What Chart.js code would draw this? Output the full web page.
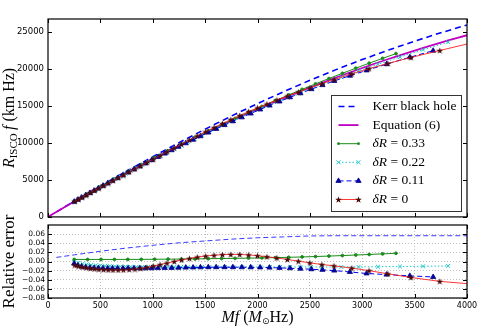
<!DOCTYPE html>
<html>
<head>
<meta charset="utf-8">
<script src="https://cdn.jsdelivr.net/npm/chart.js@4.4.1/dist/chart.umd.min.js"></script>
<style>
  html, body { margin: 0; padding: 0; background: #fff; }
  #wrap { position: relative; width: 491px; height: 332px; overflow: hidden; }
  #wrap canvas { position: absolute; left: 0; }
  #topCanvas { top: 0; }
  #errCanvas { top: 180px; }
</style>
</head>
<body>
<div id="wrap">
  <canvas id="topCanvas" width="491" height="226"></canvas>
  <canvas id="errCanvas" width="491" height="152"></canvas>
</div>
<script>
// values
const xTicks = [0, 500, 1000, 1500, 2000, 2500, 3000, 3500, 4000];
const topYTicks = [0, 5000, 10000, 15000, 20000, 25000];
const errYTicks = [-0.08, -0.06, -0.04, -0.02, 0, 0.02, 0.04, 0.06];

const legendLabels = ['Kerr black hole', 'Equation (6)', 'δR = 0.33', 'δR = 0.22', 'δR = 0.11', 'δR = 0'];

const eq6X = [0, 250, 500, 750, 1000, 1250, 1500, 1750, 2000, 2250, 2500, 2750, 3000, 3250, 3500, 3750, 4000];
const eq6Y = [0, 2073, 4075, 6005, 7864, 9652, 11368, 13013, 14586, 16088, 17519, 18878, 20166, 21383, 22528, 23602, 24604];

const kerrX = [80, 250, 500, 750, 1000, 1250, 1500, 1750, 2000, 2250, 2500, 2750, 3000, 3250, 3500, 3750, 4000];
const kerrY = [677, 2103, 4167, 6182, 8143, 10048, 11880, 13651, 15344, 16957, 18500, 19945, 21305, 22591, 23801, 24935, 25994];
const kerrErr = [0.009, 0.0145, 0.0225, 0.0295, 0.0355, 0.041, 0.045, 0.049, 0.052, 0.054, 0.056, 0.0565, 0.0565, 0.0565, 0.0565, 0.0565, 0.0565];

const dR33X = [250, 378, 506, 634, 762, 890, 1018, 1146, 1274, 1402, 1530, 1658, 1786, 1914, 2042, 2170, 2298, 2426, 2554, 2682, 2810, 2938, 3066, 3194, 3322];
const dR33Y = [2082, 3121, 4140, 5141, 6124, 7088, 8034, 8962, 9872, 10765, 11640, 12496, 13335, 14157, 14961, 15748, 16519, 17274, 18013, 18736, 19443, 20135, 20810, 21469, 22111];
const dR33Err = [0.0045, 0.0045, 0.0045, 0.0045, 0.0046, 0.0047, 0.0049, 0.0051, 0.0054, 0.0057, 0.0061, 0.0065, 0.0069, 0.0074, 0.0079, 0.0085, 0.0092, 0.0100, 0.0109, 0.0119, 0.0130, 0.0142, 0.0154, 0.0167, 0.0180];

const dR22X = [250, 290, 330, 370, 410, 455, 500, 545, 590, 640, 690, 740, 790, 845, 900, 955, 1015, 1075, 1140, 1205, 1270, 1335, 1400, 1470, 1540, 1615, 1690, 1770, 1855, 1940, 2030, 2120, 2215, 2310, 2410, 2510, 2615, 2800, 2965, 3150, 3360, 3580, 3820];
const dR22Y = [2071, 2391, 2708, 3023, 3337, 3688, 4038, 4385, 4730, 5110, 5487, 5863, 6235, 6641, 7044, 7444, 7877, 8307, 8767, 9223, 9674, 10120, 10562, 11032, 11496, 11988, 12473, 12983, 13518, 14044, 14593, 15132, 15691, 16241, 16808, 17364, 17935, 18912, 19754, 20664, 21654, 22639, 23658];
const dR22Err = [-0.001, -0.003, -0.005, -0.0065, -0.0075, -0.0085, -0.009, -0.0095, -0.010, -0.0105, -0.011, -0.0112, -0.0115, -0.0117, -0.0119, -0.012, -0.0121, -0.012, -0.012, -0.012, -0.012, -0.012, -0.012, -0.012, -0.012, -0.012, -0.012, -0.012, -0.012, -0.012, -0.012, -0.012, -0.012, -0.012, -0.012, -0.012, -0.012, -0.012, -0.0118, -0.0115, -0.011, -0.0105, -0.0097];

const dR11X = [250, 285, 320, 360, 400, 440, 480, 525, 570, 615, 665, 715, 765, 820, 875, 930, 990, 1050, 1115, 1180, 1245, 1315, 1385, 1455, 1530, 1605, 1685, 1765, 1850, 1935, 2025, 2115, 2210, 2310, 2410, 2515, 2620, 2733, 2882, 3041, 3232, 3454, 3677];
const dR11Y = [2064, 2338, 2612, 2926, 3238, 3550, 3860, 4208, 4553, 4897, 5276, 5653, 6027, 6435, 6839, 7240, 7676, 8108, 8572, 9030, 9485, 9969, 10449, 10922, 11423, 11916, 12434, 12945, 13479, 14002, 14548, 15081, 15631, 16195, 16743, 17303, 17847, 18414, 19119, 19837, 20686, 21619, 22506];
const dR11Err = [-0.0045, -0.0085, -0.011, -0.0125, -0.0135, -0.014, -0.0145, -0.0148, -0.015, -0.015, -0.015, -0.015, -0.015, -0.015, -0.015, -0.015, -0.0148, -0.0145, -0.0142, -0.014, -0.0137, -0.0134, -0.0131, -0.0128, -0.0126, -0.0125, -0.0125, -0.0125, -0.0126, -0.0128, -0.013, -0.0134, -0.014, -0.0148, -0.0158, -0.017, -0.0183, -0.0199, -0.0229, -0.0262, -0.0287, -0.0315, -0.0339];

// last point (4000) is the end of the line, without a marker
const dR0X = [255, 290, 325, 365, 405, 445, 485, 530, 575, 620, 670, 720, 775, 830, 885, 945, 1005, 1070, 1135, 1205, 1275, 1350, 1425, 1505, 1585, 1665, 1745, 1830, 1915, 2000, 2090, 2185, 2285, 2390, 2500, 2615, 2730, 2900, 3065, 3245, 3465, 3740, 4000];
const dR0Y = [2097, 2374, 2649, 2962, 3273, 3582, 3889, 4234, 4576, 4917, 5295, 5671, 6085, 6499, 6913, 7366, 7821, 8315, 8807, 9335, 9861, 10417, 10966, 11538, 12100, 12648, 13183, 13734, 14263, 14771, 15294, 15827, 16366, 16912, 17466, 18033, 18594, 19374, 20079, 20782, 21589, 22535, 23411];
const dR0Err = [-0.008, -0.010, -0.012, -0.0135, -0.015, -0.016, -0.017, -0.0178, -0.0183, -0.0186, -0.0186, -0.0183, -0.0176, -0.0165, -0.015, -0.0128, -0.010, -0.0068, -0.0035, 0.0, 0.0035, 0.0068, 0.0097, 0.012, 0.0138, 0.015, 0.0156, 0.0155, 0.0145, 0.0127, 0.0105, 0.0078, 0.0045, 0.0008, -0.003, -0.0066, -0.0095, -0.0145, -0.020, -0.027, -0.035, -0.0435, -0.0485];

const SERIF = '"Liberation Serif", "DejaVu Serif", serif';
const SANS = '"DejaVu Sans", sans-serif';

function pts(xs, ys) {
    return xs.map((x, i) => ({ x: x, y: ys[i] }));
}

// filled 5-point star like matplotlib's '*'
function starImage(size, fill) {
    const c = document.createElement('canvas');
    c.width = c.height = size;
    const g = c.getContext('2d');
    const cx = size / 2, cy = size / 2 + 0.4, ro = size / 2, ri = ro * 0.42;
    g.beginPath();
    for (let k = 0; k < 10; k++) {
        const r = k % 2 ? ri : ro;
        const a = -Math.PI / 2 + k * Math.PI / 5;
        g.lineTo(cx + r * Math.cos(a), cy + r * Math.sin(a));
    }
    g.closePath();
    g.fillStyle = fill;
    g.fill();
    return c;
}
const star = starImage(7, '#4a0c0c');

const styles = {
    kerr: { borderColor: '#0000ff', borderWidth: 1.6, borderDash: [6, 4], pointRadius: 0, order: 6 },
    eq6: { borderColor: '#c000c0', borderWidth: 1.8, pointRadius: 0, order: 5, cubicInterpolationMode: 'monotone' },
    g: { borderColor: '#1a8a1a', borderWidth: 1, pointStyle: 'circle', pointRadius: 1.4, pointBackgroundColor: '#1a8a1a', pointBorderColor: '#1a8a1a', order: 4 },
    c: { borderColor: '#20c8c8', borderWidth: 1, borderDash: [1.5, 2], pointStyle: 'crossRot', pointRadius: 2.8, pointBorderColor: '#20c8c8', pointBorderWidth: 1, order: 3 },
    b: { borderColor: '#0000ee', borderWidth: 1, borderDash: [5, 3], pointStyle: 'triangle', pointRadius: 3, pointBackgroundColor: '#0000b0', pointBorderColor: '#000080', pointBorderWidth: 0.8, order: 2 },
    r: { borderColor: 'rgba(255, 20, 20, 0.85)', borderWidth: 1, pointStyle: star, pointRadius: dR0X.map((x, i) => i === dR0X.length - 1 ? 0 : 3), order: 1 }
};

function ds(label, data, style, extra) {
    return Object.assign({ label: label, data: data, fill: false, tension: 0, pointHoverRadius: 0 }, style, extra || {});
}

function drawMarker(ctx, d, x, y) {
    const r = Array.isArray(d.pointRadius) ? d.pointRadius[0] : d.pointRadius;
    if (!r) return;
    const st = d.pointStyle;
    ctx.save();
    ctx.setLineDash([]);
    if (st instanceof HTMLCanvasElement) {
        ctx.drawImage(st, x - st.width / 2, y - st.height / 2);
    } else if (st === 'circle') {
        ctx.fillStyle = d.pointBackgroundColor;
        ctx.beginPath(); ctx.arc(x, y, r, 0, Math.PI * 2); ctx.fill();
    } else if (st === 'crossRot') {
        const o = r * Math.SQRT1_2;
        ctx.strokeStyle = d.pointBorderColor; ctx.lineWidth = d.pointBorderWidth || 1;
        ctx.beginPath();
        ctx.moveTo(x - o, y - o); ctx.lineTo(x + o, y + o);
        ctx.moveTo(x - o, y + o); ctx.lineTo(x + o, y - o);
        ctx.stroke();
    } else if (st === 'triangle') {
        ctx.fillStyle = d.pointBackgroundColor; ctx.strokeStyle = d.pointBorderColor;
        ctx.lineWidth = d.pointBorderWidth || 1;
        ctx.beginPath();
        ctx.moveTo(x, y - r);
        ctx.lineTo(x - r * 0.866, y + r / 2);
        ctx.lineTo(x + r * 0.866, y + r / 2);
        ctx.closePath(); ctx.fill(); ctx.stroke();
    }
    ctx.restore();
}

// frame round the plot area and inward tick marks (matplotlib look)
const framePlugin = {
    id: 'frame',
    afterDatasetsDraw(chart, args, opts) {
        const { ctx, chartArea: a, scales } = chart;
        ctx.save();
        ctx.strokeStyle = '#000';
        ctx.lineWidth = 1;
        ctx.beginPath();
        xTicks.forEach(v => {
            const px = Math.round(scales.x.getPixelForValue(v)) + 0.5;
            ctx.moveTo(px, a.bottom); ctx.lineTo(px, a.bottom - 4);
            ctx.moveTo(px, a.top); ctx.lineTo(px, a.top + 4);
        });
        (opts.yTicks || []).forEach(v => {
            const py = Math.round(scales.y.getPixelForValue(v)) + 0.5;
            ctx.moveTo(a.left, py); ctx.lineTo(a.left + 4, py);
            ctx.moveTo(a.right, py); ctx.lineTo(a.right - 4, py);
        });
        ctx.stroke();
        ctx.lineWidth = 1.2;
        ctx.strokeRect(a.left, a.top, a.right - a.left, a.bottom - a.top);
        ctx.restore();
    }
};

// axis titles with sub/superscript parts
function drawParts(ctx, cx, cy, rot, parts) {
    ctx.save();
    ctx.translate(cx, cy);
    ctx.rotate(rot);
    ctx.fillStyle = '#000';
    ctx.textBaseline = 'middle';
    ctx.textAlign = 'left';
    let total = 0;
    parts.forEach(p => { ctx.font = p.font; total += ctx.measureText(p.t).width; });
    let x = -total / 2;
    parts.forEach(p => {
        ctx.font = p.font;
        ctx.fillText(p.t, x, p.dy || 0);
        x += ctx.measureText(p.t).width;
    });
    ctx.restore();
}

const titlePlugin = {
    id: 'axisTitles',
    afterDraw(chart, args, opts) {
        const { ctx, chartArea: a } = chart;
        if (opts.y) drawParts(ctx, 10, (a.top + a.bottom) / 2, -Math.PI / 2, opts.y);
        if (opts.x) drawParts(ctx, (a.left + a.right) / 2, a.bottom + opts.xOffset, 0, opts.x);
    }
};

const legendPlugin = {
    id: 'boxLegend',
    afterDraw(chart) {
        const { ctx, chartArea: a } = chart;
        const w = 130, h = 116;
        const x0 = Math.round(a.right - 6 - w) + 0.5, y0 = Math.round(a.bottom - 6 - h) + 0.5;
        ctx.save();
        ctx.fillStyle = '#fff';
        ctx.fillRect(x0, y0, w, h);
        ctx.strokeStyle = '#333';
        ctx.lineWidth = 1;
        ctx.strokeRect(x0, y0, w, h);
        chart.data.datasets.forEach((d, i) => {
            const y = y0 + 11 + i * 18.6;
            const xa = x0 + 7, xb = x0 + 27;
            ctx.strokeStyle = d.borderColor;
            ctx.lineWidth = d.borderWidth;
            ctx.setLineDash(d.borderDash || []);
            ctx.beginPath(); ctx.moveTo(xa, y); ctx.lineTo(xb, y); ctx.stroke();
            ctx.setLineDash([]);
            drawMarker(ctx, d, xa, y);
            drawMarker(ctx, d, xb, y);
            const label = legendLabels[i];
            let tx = x0 + 41;
            ctx.fillStyle = '#000';
            ctx.textBaseline = 'middle';
            if (label.indexOf('δR') === 0) {
                ctx.font = 'italic 13.5px ' + SERIF;
                ctx.fillText('δR', tx, y);
                tx += ctx.measureText('δR').width;
                ctx.font = '13.5px ' + SERIF;
                ctx.fillText(label.slice(2), tx, y);
            } else {
                ctx.font = '13.5px ' + SERIF;
                ctx.fillText(label, tx, y);
            }
        });
        ctx.restore();
    }
};

Chart.defaults.color = '#000';

new Chart(document.getElementById('topCanvas'), {
    type: 'line',
    data: {
        datasets: [
            ds(legendLabels[0], pts(kerrX, kerrY), styles.kerr),
            ds(legendLabels[1], pts(eq6X, eq6Y), styles.eq6),
            ds(legendLabels[2], pts(dR33X, dR33Y), styles.g),
            ds(legendLabels[3], pts(dR22X, dR22Y), styles.c),
            ds(legendLabels[4], pts(dR11X, dR11Y), styles.b),
            ds(legendLabels[5], pts(dR0X, dR0Y), styles.r)
        ]
    },
    options: {
        responsive: false,
        animation: false,
        events: [],
        layout: { padding: { top: 19, right: 24, bottom: 1, left: 0 } },
        plugins: {
            legend: { display: false },
            tooltip: { enabled: false },
            frame: { yTicks: topYTicks },
            axisTitles: {
                y: [
                    { t: 'R', font: 'italic 16px ' + SERIF },
                    { t: 'ISCO', font: '11px ' + SERIF, dy: 4 },
                    { t: '\u2009f', font: 'italic 16px ' + SERIF },
                    { t: ' (km Hz)', font: '16px ' + SERIF }
                ]
            }
        },
        scales: {
            x: { type: 'linear', min: 0, max: 4000, display: false },
            y: {
                type: 'linear', min: 0, max: 26800,
                grid: { display: false, drawTicks: false },
                border: { display: false },
                afterBuildTicks: s => { s.ticks = topYTicks.map(v => ({ value: v })); },
                afterFit: s => { s.width = 48; },
                ticks: { font: { family: SANS, size: 8.5 }, color: '#000', padding: 4, autoSkip: false, callback: v => String(v) }
            }
        }
    },
    plugins: [framePlugin, legendPlugin, titlePlugin]
});

new Chart(document.getElementById('errCanvas'), {
    type: 'line',
    data: {
        datasets: [
            ds(legendLabels[0], pts(kerrX, kerrErr), styles.kerr, { borderWidth: 1, borderColor: '#3a3aff', borderDash: [5, 3] }),
            ds(legendLabels[2], pts(dR33X, dR33Err), styles.g),
            ds(legendLabels[3], pts(dR22X, dR22Err), styles.c),
            ds(legendLabels[4], pts(dR11X, dR11Err), styles.b),
            ds(legendLabels[5], pts(dR0X, dR0Err), styles.r)
        ]
    },
    options: {
        responsive: false,
        animation: false,
        events: [],
        layout: { padding: { top: 45, right: 24, bottom: 0, left: 0 } },
        plugins: {
            legend: { display: false },
            tooltip: { enabled: false },
            frame: { yTicks: errYTicks },
            axisTitles: {
                y: [{ t: 'Relative error', font: '17px ' + SERIF }],
                xOffset: 20,
                x: [
                    { t: 'Mf', font: 'italic 16px ' + SERIF },
                    { t: ' (', font: '16px ' + SERIF },
                    { t: 'M', font: 'italic 16px ' + SERIF },
                    { t: '\u2299', font: '9px "DejaVu Sans", sans-serif', dy: 4 },
                    { t: 'Hz)', font: '16px ' + SERIF }
                ]
            }
        },
        scales: {
            x: {
                type: 'linear', min: 0, max: 4000,
                grid: { color: '#b0b0b0', lineWidth: 0.8, drawTicks: false },
                border: { display: false, dash: [1, 2] },
                afterBuildTicks: s => { s.ticks = xTicks.map(v => ({ value: v })); },
                afterFit: s => { s.height = 34; },
                ticks: { font: { family: SANS, size: 8 }, color: '#000', padding: 3, autoSkip: false, maxRotation: 0, callback: v => String(v) }
            },
            y: {
                type: 'linear', min: -0.08, max: 0.08,
                grid: { color: '#b0b0b0', lineWidth: 0.8, drawTicks: false },
                border: { display: false, dash: [1, 2] },
                afterBuildTicks: s => { s.ticks = errYTicks.map(v => ({ value: v })); },
                afterFit: s => { s.width = 48; },
                ticks: {
                    font: { family: SANS, size: 7.5 }, color: '#000', padding: 3, autoSkip: false,
                    callback: v => (v < -1e-9 ? '\u2212' : '') + Math.abs(v).toFixed(2)
                }
            }
        }
    },
    plugins: [framePlugin, titlePlugin]
});
</script>
</body>
</html>
